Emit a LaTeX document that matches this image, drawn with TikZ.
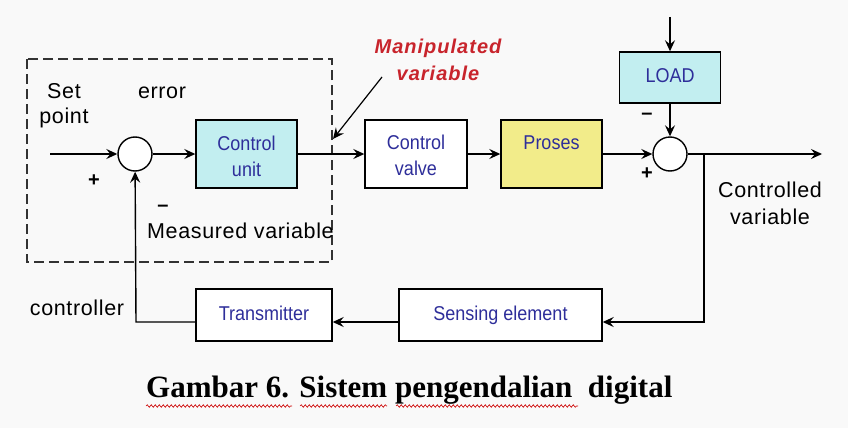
\documentclass[tikz,border=0pt]{standalone}
\usepackage{fontspec}
\setmainfont{Liberation Sans}
\newfontfamily\boxfont[FakeStretch=0.9]{Liberation Sans}
\newfontfamily\lblfont[LetterSpace=3]{Liberation Sans}
\newfontfamily\redfont[LetterSpace=5]{Liberation Sans}
\newfontfamily\capfont{Liberation Serif}
\usetikzlibrary{arrows.meta,decorations.pathmorphing}
\definecolor{cyanfill}{HTML}{C2EEF0}
\definecolor{yelfill}{HTML}{F2EC8A}
\definecolor{boxtext}{HTML}{2E2E9A}
\definecolor{redtext}{HTML}{C8242C}
\definecolor{bgcol}{HTML}{F9F9F9}
\begin{document}
\begin{tikzpicture}[x=1pt,y=-1pt,
  >={Stealth[length=11pt,width=10pt,inset=4pt]},
  conn/.style={line width=1.4pt,->},
  blk/.style={draw,line width=1.4pt,rectangle,inner sep=0pt},
  sumnode/.style={draw,line width=1.4pt,circle,fill=white,minimum size=34pt,inner sep=0pt},
  btxt/.style={font=\boxfont\fontsize{20}{24}\selectfont,text=boxtext,anchor=base,inner sep=0pt},
  ltxt/.style={font=\lblfont\fontsize{21.5}{25}\selectfont,anchor=base,inner sep=0pt},
  rtxt/.style={font=\redfont\bfseries\itshape\fontsize{20}{24}\selectfont,text=redtext,anchor=base,inner sep=0pt},
  sgn/.style={font=\bfseries\fontsize{20}{22}\selectfont,inner sep=0pt},
  wavy/.style={draw=red!80!black,line width=0.6pt,decorate,decoration={snake,amplitude=1.3pt,segment length=4pt}}
]
\fill[bgcol] (0,0) rectangle (848,428);
\useasboundingbox (0,0) rectangle (848,428);

% dashed controller box
\draw[line width=1.1pt,dash pattern=on 10pt off 5pt,black!80] (27,59) rectangle (332,262);

% blocks
\node[blk,fill=cyanfill,minimum width=101pt,minimum height=68pt] (cu) at (246.5,154) {};
\node[blk,fill=white,minimum width=102pt,minimum height=68pt] (cv) at (416,154) {};
\node[blk,fill=yelfill,minimum width=101pt,minimum height=68pt] (pr) at (551.5,154) {};
\node[blk,fill=cyanfill,minimum width=101pt,minimum height=51pt] (load) at (670,77.5) {};
\node[blk,fill=white,minimum width=136pt,minimum height=52pt] (tr) at (264,315) {};
\node[blk,fill=white,minimum width=203pt,minimum height=52pt] (se) at (500.5,315) {};
\node[sumnode] (s1) at (135,154) {};
\node[sumnode] (s2) at (670,154) {};

% coordinates
\coordinate (in) at (50,154);
\coordinate (out) at (822,154);
\coordinate (top) at (670,17);
\coordinate (br) at (704,154);
\coordinate (fbr) at (704,322);
\coordinate (fbl) at (136,322);
\coordinate (mvs) at (382,77);
\coordinate (mve) at (333,139);

% connectors
\draw[conn] (in) -- (s1);
\draw[conn] (s1) -- (cu);
\draw[conn] (cu) -- (cv);
\draw[conn] (cv) -- (pr);
\draw[conn] (pr) -- (s2);
\draw[conn] (s2) -- (out);
\draw[conn] (top) -- (load);
\draw[conn] (load) -- (s2);
\draw[conn] (br) -- (fbr) -- (se.east |- fbr);
\draw[conn] (se.west |- fbr) -- (tr.east |- fbr);
\draw[conn] (tr.west |- fbr) -- (fbl) -- (s1);
\draw[line width=1.2pt,->] (mvs) -- (mve);

% block texts
\node[btxt] (cut1) at (246.5,150) {Control};
\node[btxt] (cut2) at (246.5,176) {unit};
\node[btxt] (cvt1) at (416,149) {Control};
\node[btxt] (cvt2) at (416,175) {valve};
\node[btxt] (prt) at (551.5,149) {Proses};
\node[btxt] (loadt) at (670,82) {LOAD};
\node[btxt] (trt) at (264,320) {Transmitter};
\node[btxt] (set) at (500.5,320) {Sensing element};

% labels
\node[ltxt] (sp1) at (64,98) {Set};
\node[ltxt] (sp2) at (64,123) {point};
\node[ltxt] (err) at (162,98) {error};
\node[ltxt,anchor=base west] (mv) at (147,238) {Measured variable};
\node[ltxt] (ctl) at (77,315) {controller};
\node[ltxt] (cv1) at (770,197) {Controlled};
\node[ltxt] (cv2) at (770,224) {variable};
\node[rtxt] (man1) at (438,53) {Manipulated};
\node[rtxt] (man2) at (438,80) {variable};
\node[sgn] (p1) at (94,181) {+};
\node[sgn] (m1) at (163,208) {--};
\node[sgn] (m2) at (647,116) {--};
\node[sgn] (p2) at (647,174) {+};

% caption
\node[font=\capfont\bfseries\fontsize{31}{36}\selectfont,anchor=base west,inner sep=0pt] (cap) at (146,397) {Gambar 6. Sistem pengendalian\ \ digital};
\draw[wavy] (146,406) -- (292,406);
\draw[wavy] (300,406) -- (387,406);
\draw[wavy] (396,406) -- (578,406);
\end{tikzpicture}
\end{document}
